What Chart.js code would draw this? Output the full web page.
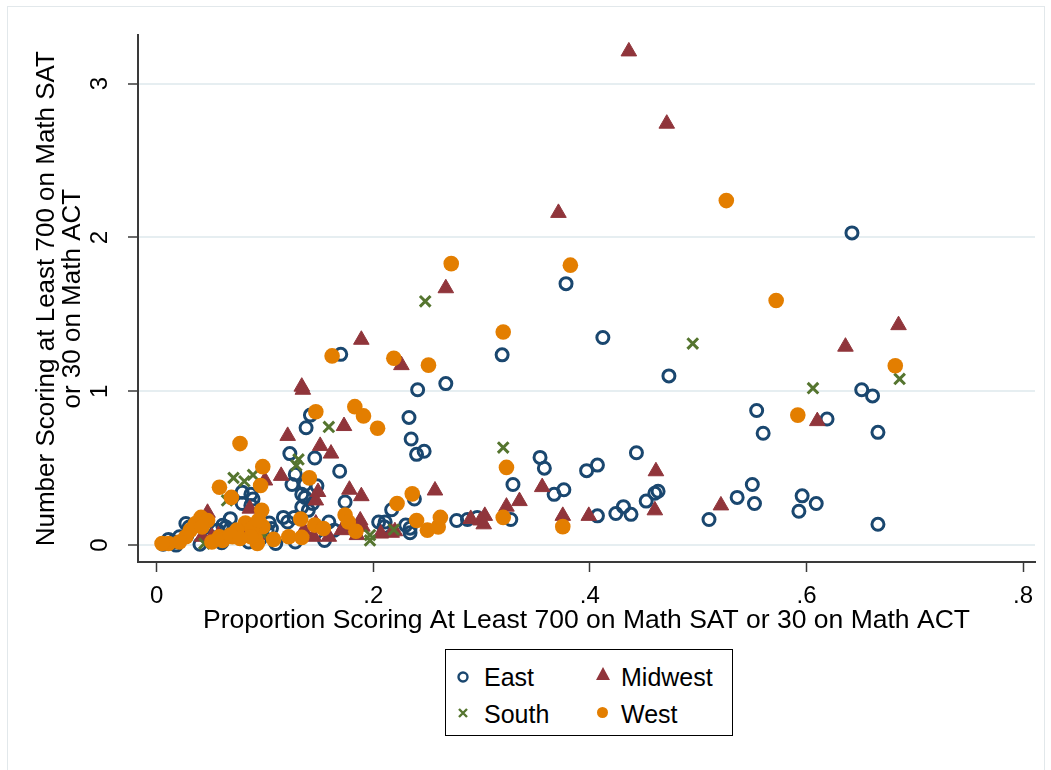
<!DOCTYPE html>
<html lang="en">
<head>
    <meta charset="UTF-8">
    <title>Math SAT / ACT scatter by region</title>
    <script src="https://cdn.jsdelivr.net/npm/chart.js"></script>
    <style>
        body {
            margin: 0;
            background: #fff;
            font-family: "Liberation Sans", Arial, sans-serif;
        }
        .frame {
            position: absolute;
            left: 7px;
            top: 6px;
            width: 1036px;
            height: 770px;
            border: 1px solid #e2e8eb;
            border-bottom: none;
        }
        #chart {
            position: absolute;
            left: 0;
            top: 0;
        }
        .legend {
            position: absolute;
            left: 445px;
            top: 649px;
            width: 286px;
            height: 85px;
            border: 1px solid #000;
            background: #fff;
        }
        .legend svg {
            position: absolute;
        }
        .legend span {
            position: absolute;
            font-size: 25px;
            line-height: 24px;
            color: #000;
            white-space: nowrap;
        }
    </style>
</head>
<body>
    <div class="frame"></div>
    <canvas id="chart" width="1051" height="770" style="width:1051px;height:770px"></canvas>

    <div class="legend">
        <svg style="left:10px;top:20px" width="14" height="14"><circle cx="7" cy="7" r="4.5" fill="none" stroke="#1a476f" stroke-width="2.4"/></svg>
        <span style="left:38px;top:15px">East</span>
        <svg style="left:149px;top:16px" width="16" height="15"><polygon points="8,1 15,14 1,14" fill="#90353b"/></svg>
        <span style="left:175px;top:15px">Midwest</span>
        <svg style="left:11px;top:57px" width="12" height="12"><path d="M2,2 L10,10 M10,2 L2,10" stroke="#55752f" stroke-width="2.4"/></svg>
        <span style="left:38px;top:52px">South</span>
        <svg style="left:150px;top:56px" width="13" height="13"><circle cx="6.5" cy="6.5" r="5.5" fill="#e37e00"/></svg>
        <span style="left:175px;top:52px">West</span>
    </div>

    <script>
        // values
        const eastX = [0.642, 0.378, 0.412, 0.319, 0.170, 0.473, 0.267, 0.241, 0.651, 0.661, 0.554, 0.619, 0.560, 0.666, 0.233, 0.142, 0.138, 0.235, 0.240, 0.247, 0.443, 0.123, 0.146, 0.354, 0.358, 0.407, 0.397, 0.169, 0.128, 0.329, 0.550, 0.125, 0.137, 0.148, 0.367, 0.376, 0.460, 0.463, 0.536, 0.552, 0.596, 0.609, 0.593, 0.666, 0.510, 0.452, 0.431, 0.424, 0.438, 0.407, 0.079, 0.087, 0.089, 0.079, 0.087, 0.134, 0.137, 0.144, 0.134, 0.140, 0.174, 0.238, 0.217, 0.205, 0.211, 0.210, 0.230, 0.234, 0.234, 0.277, 0.287, 0.296, 0.327, 0.117, 0.121, 0.127, 0.159, 0.164, 0.098, 0.102, 0.104, 0.106, 0.096, 0.030, 0.028, 0.021, 0.011, 0.045, 0.050, 0.056, 0.064, 0.067, 0.027, 0.061, 0.068, 0.065, 0.006, 0.018, 0.040, 0.060, 0.085, 0.110, 0.128, 0.155, 0.015];
        const eastY = [2.03, 1.70, 1.35, 1.237, 1.24, 1.10, 1.05, 1.01, 1.01, 0.97, 0.875, 0.82, 0.727, 0.733, 0.83, 0.845, 0.763, 0.69, 0.59, 0.61, 0.60, 0.595, 0.566, 0.57, 0.50, 0.52, 0.484, 0.48, 0.46, 0.394, 0.394, 0.394, 0.394, 0.385, 0.33, 0.36, 0.337, 0.35, 0.31, 0.27, 0.32, 0.27, 0.22, 0.135, 0.166, 0.286, 0.25, 0.205, 0.20, 0.19, 0.344, 0.33, 0.30, 0.27, 0.258, 0.33, 0.31, 0.27, 0.247, 0.226, 0.28, 0.30, 0.23, 0.15, 0.15, 0.12, 0.13, 0.11, 0.08, 0.16, 0.166, 0.18, 0.166, 0.18, 0.15, 0.18, 0.15, 0.097, 0.118, 0.097, 0.144, 0.108, 0.043, 0.118, 0.065, 0.054, 0.037, 0.118, 0.054, 0.097, 0.118, 0.097, 0.14, 0.129, 0.172, 0.054, 0.005, 0.0, 0.005, 0.015, 0.02, 0.01, 0.02, 0.03, 0.02];

        const midwestX = [0.436, 0.471, 0.371, 0.267, 0.685, 0.636, 0.189, 0.226, 0.134, 0.135, 0.610, 0.173, 0.121, 0.151, 0.161, 0.461, 0.356, 0.178, 0.189, 0.257, 0.115, 0.100, 0.149, 0.147, 0.086, 0.047, 0.521, 0.460, 0.399, 0.375, 0.323, 0.335, 0.290, 0.299, 0.303, 0.302, 0.207, 0.217, 0.173, 0.187, 0.190, 0.136, 0.147, 0.159, 0.171, 0.188, 0.185, 0.145, 0.051, 0.042, 0.057, 0.085, 0.093, 0.258, 0.220];
        const midwestY = [3.21, 2.74, 2.16, 1.67, 1.43, 1.29, 1.335, 1.17, 1.03, 1.01, 0.806, 0.774, 0.71, 0.645, 0.595, 0.48, 0.377, 0.36, 0.318, 0.355, 0.45, 0.42, 0.345, 0.29, 0.237, 0.21, 0.258, 0.226, 0.19, 0.19, 0.25, 0.286, 0.17, 0.16, 0.19, 0.135, 0.075, 0.08, 0.12, 0.14, 0.12, 0.097, 0.14, 0.054, 0.097, 0.16, 0.065, 0.054, 0.054, 0.054, 0.065, 0.086, 0.065, 0.12, 0.09];

        const southX = [0.248, 0.495, 0.686, 0.606, 0.159, 0.320, 0.131, 0.129, 0.071, 0.081, 0.089, 0.065, 0.197, 0.197, 0.219, 0.099, 0.044];
        const southY = [1.585, 1.31, 1.08, 1.02, 0.768, 0.634, 0.557, 0.518, 0.437, 0.415, 0.456, 0.29, 0.065, 0.03, 0.10, 0.065, 0.01];

        const westX = [0.526, 0.272, 0.382, 0.572, 0.320, 0.162, 0.219, 0.251, 0.682, 0.183, 0.147, 0.191, 0.592, 0.204, 0.077, 0.323, 0.098, 0.141, 0.096, 0.058, 0.069, 0.236, 0.222, 0.097, 0.375, 0.320, 0.240, 0.250, 0.260, 0.262, 0.174, 0.177, 0.184, 0.098, 0.133, 0.146, 0.154, 0.122, 0.134, 0.108, 0.093, 0.082, 0.074, 0.070, 0.058, 0.051, 0.041, 0.036, 0.031, 0.027, 0.021, 0.011, 0.005, 0.047, 0.042, 0.061, 0.068, 0.088, 0.094, 0.091, 0.087, 0.077];
        const westY = [2.24, 1.83, 1.82, 1.59, 1.385, 1.23, 1.215, 1.17, 1.166, 0.90, 0.867, 0.84, 0.845, 0.76, 0.66, 0.505, 0.51, 0.437, 0.387, 0.376, 0.31, 0.333, 0.27, 0.226, 0.12, 0.18, 0.16, 0.097, 0.118, 0.18, 0.195, 0.15, 0.09, 0.12, 0.17, 0.13, 0.108, 0.054, 0.05, 0.037, 0.01, 0.144, 0.097, 0.054, 0.054, 0.02, 0.18, 0.14, 0.097, 0.054, 0.02, 0.01, 0.01, 0.16, 0.118, 0.03, 0.065, 0.108, 0.16, 0.043, 0.054, 0.043];

        const xTicks = [0, 0.2, 0.4, 0.6, 0.8];
        const xTickLabels = ['0', '.2', '.4', '.6', '.8'];
        const yTicks = [0, 1, 2, 3];
        const yTickLabels = ['0', '1', '2', '3'];

        function toPoints(xs, ys) {
            return xs.map((x, i) => ({ x: x, y: ys[i] }));
        }

        Chart.defaults.font.family = '"Liberation Sans", Arial, sans-serif';
        Chart.defaults.color = '#000';

        const axisColor = '#3a3a3a';

        new Chart(document.getElementById('chart').getContext('2d'), {
            type: 'scatter',
            data: {
                datasets: [
                    {
                        label: 'East',
                        data: toPoints(eastX, eastY),
                        pointStyle: 'circle',
                        pointRadius: 6,
                        pointBorderWidth: 3,
                        borderColor: '#1a476f',
                        backgroundColor: 'rgba(0,0,0,0)',
                        order: 4
                    },
                    {
                        label: 'Midwest',
                        data: toPoints(midwestX, midwestY),
                        pointStyle: 'triangle',
                        pointRadius: 9,
                        pointBorderWidth: 1,
                        borderColor: '#90353b',
                        backgroundColor: '#90353b',
                        order: 3
                    },
                    {
                        label: 'South',
                        data: toPoints(southX, southY),
                        pointStyle: 'crossRot',
                        pointRadius: 7.5,
                        pointBorderWidth: 3,
                        borderColor: '#55752f',
                        backgroundColor: '#55752f',
                        order: 2
                    },
                    {
                        label: 'West',
                        data: toPoints(westX, westY),
                        pointStyle: 'circle',
                        pointRadius: 7.8,
                        pointBorderWidth: 0,
                        borderColor: '#e37e00',
                        backgroundColor: '#e37e00',
                        order: 1
                    }
                ]
            },
            options: {
                responsive: false,
                animation: false,
                devicePixelRatio: 1,
                layout: { padding: { left: 28, top: 32, right: 16, bottom: 128 } },
                plugins: {
                    legend: { display: false },
                    tooltip: { enabled: false }
                },
                scales: {
                    x: {
                        type: 'linear',
                        min: -0.0172,
                        max: 0.811,
                        afterBuildTicks: s => { s.ticks = xTicks.map(v => ({ value: v })); },
                        afterFit: s => { s.height = 80; },
                        ticks: {
                            autoSkip: false,
                            maxRotation: 0,
                            padding: 10,
                            font: { size: 24 },
                            callback: (v, i) => xTickLabels[i]
                        },
                        grid: {
                            display: true,
                            drawOnChartArea: false,
                            tickLength: 10,
                            tickColor: axisColor,
                            tickWidth: 1.5
                        },
                        border: { display: true, color: axisColor, width: 2 },
                        title: {
                            display: true,
                            text: 'Proportion Scoring At Least 700 on Math SAT or 30 on Math ACT',
                            font: { size: 26.5 },
                            padding: { top: 0, bottom: 5 }
                        }
                    },
                    y: {
                        type: 'linear',
                        min: -0.110,
                        max: 3.314,
                        afterBuildTicks: s => { s.ticks = yTicks.map(v => ({ value: v })); },
                        afterFit: s => { s.width = 110; },
                        ticks: {
                            autoSkip: false,
                            minRotation: 90,
                            maxRotation: 90,
                            crossAlign: 'center',
                            padding: 21,
                            font: { size: 24 },
                            callback: (v, i) => yTickLabels[i]
                        },
                        grid: {
                            color: '#e6eef1',
                            lineWidth: 2,
                            tickLength: 10,
                            tickColor: axisColor,
                            tickWidth: 1.5
                        },
                        border: { display: true, color: axisColor, width: 2 },
                        title: {
                            display: true,
                            text: ['Number Scoring at Least 700 on Math SAT', 'or 30 on Math ACT'],
                            font: { size: 26, lineHeight: 1.0 },
                            padding: { top: 6, bottom: 0 }
                        }
                    }
                }
            }
        });
    </script>
</body>
</html>
